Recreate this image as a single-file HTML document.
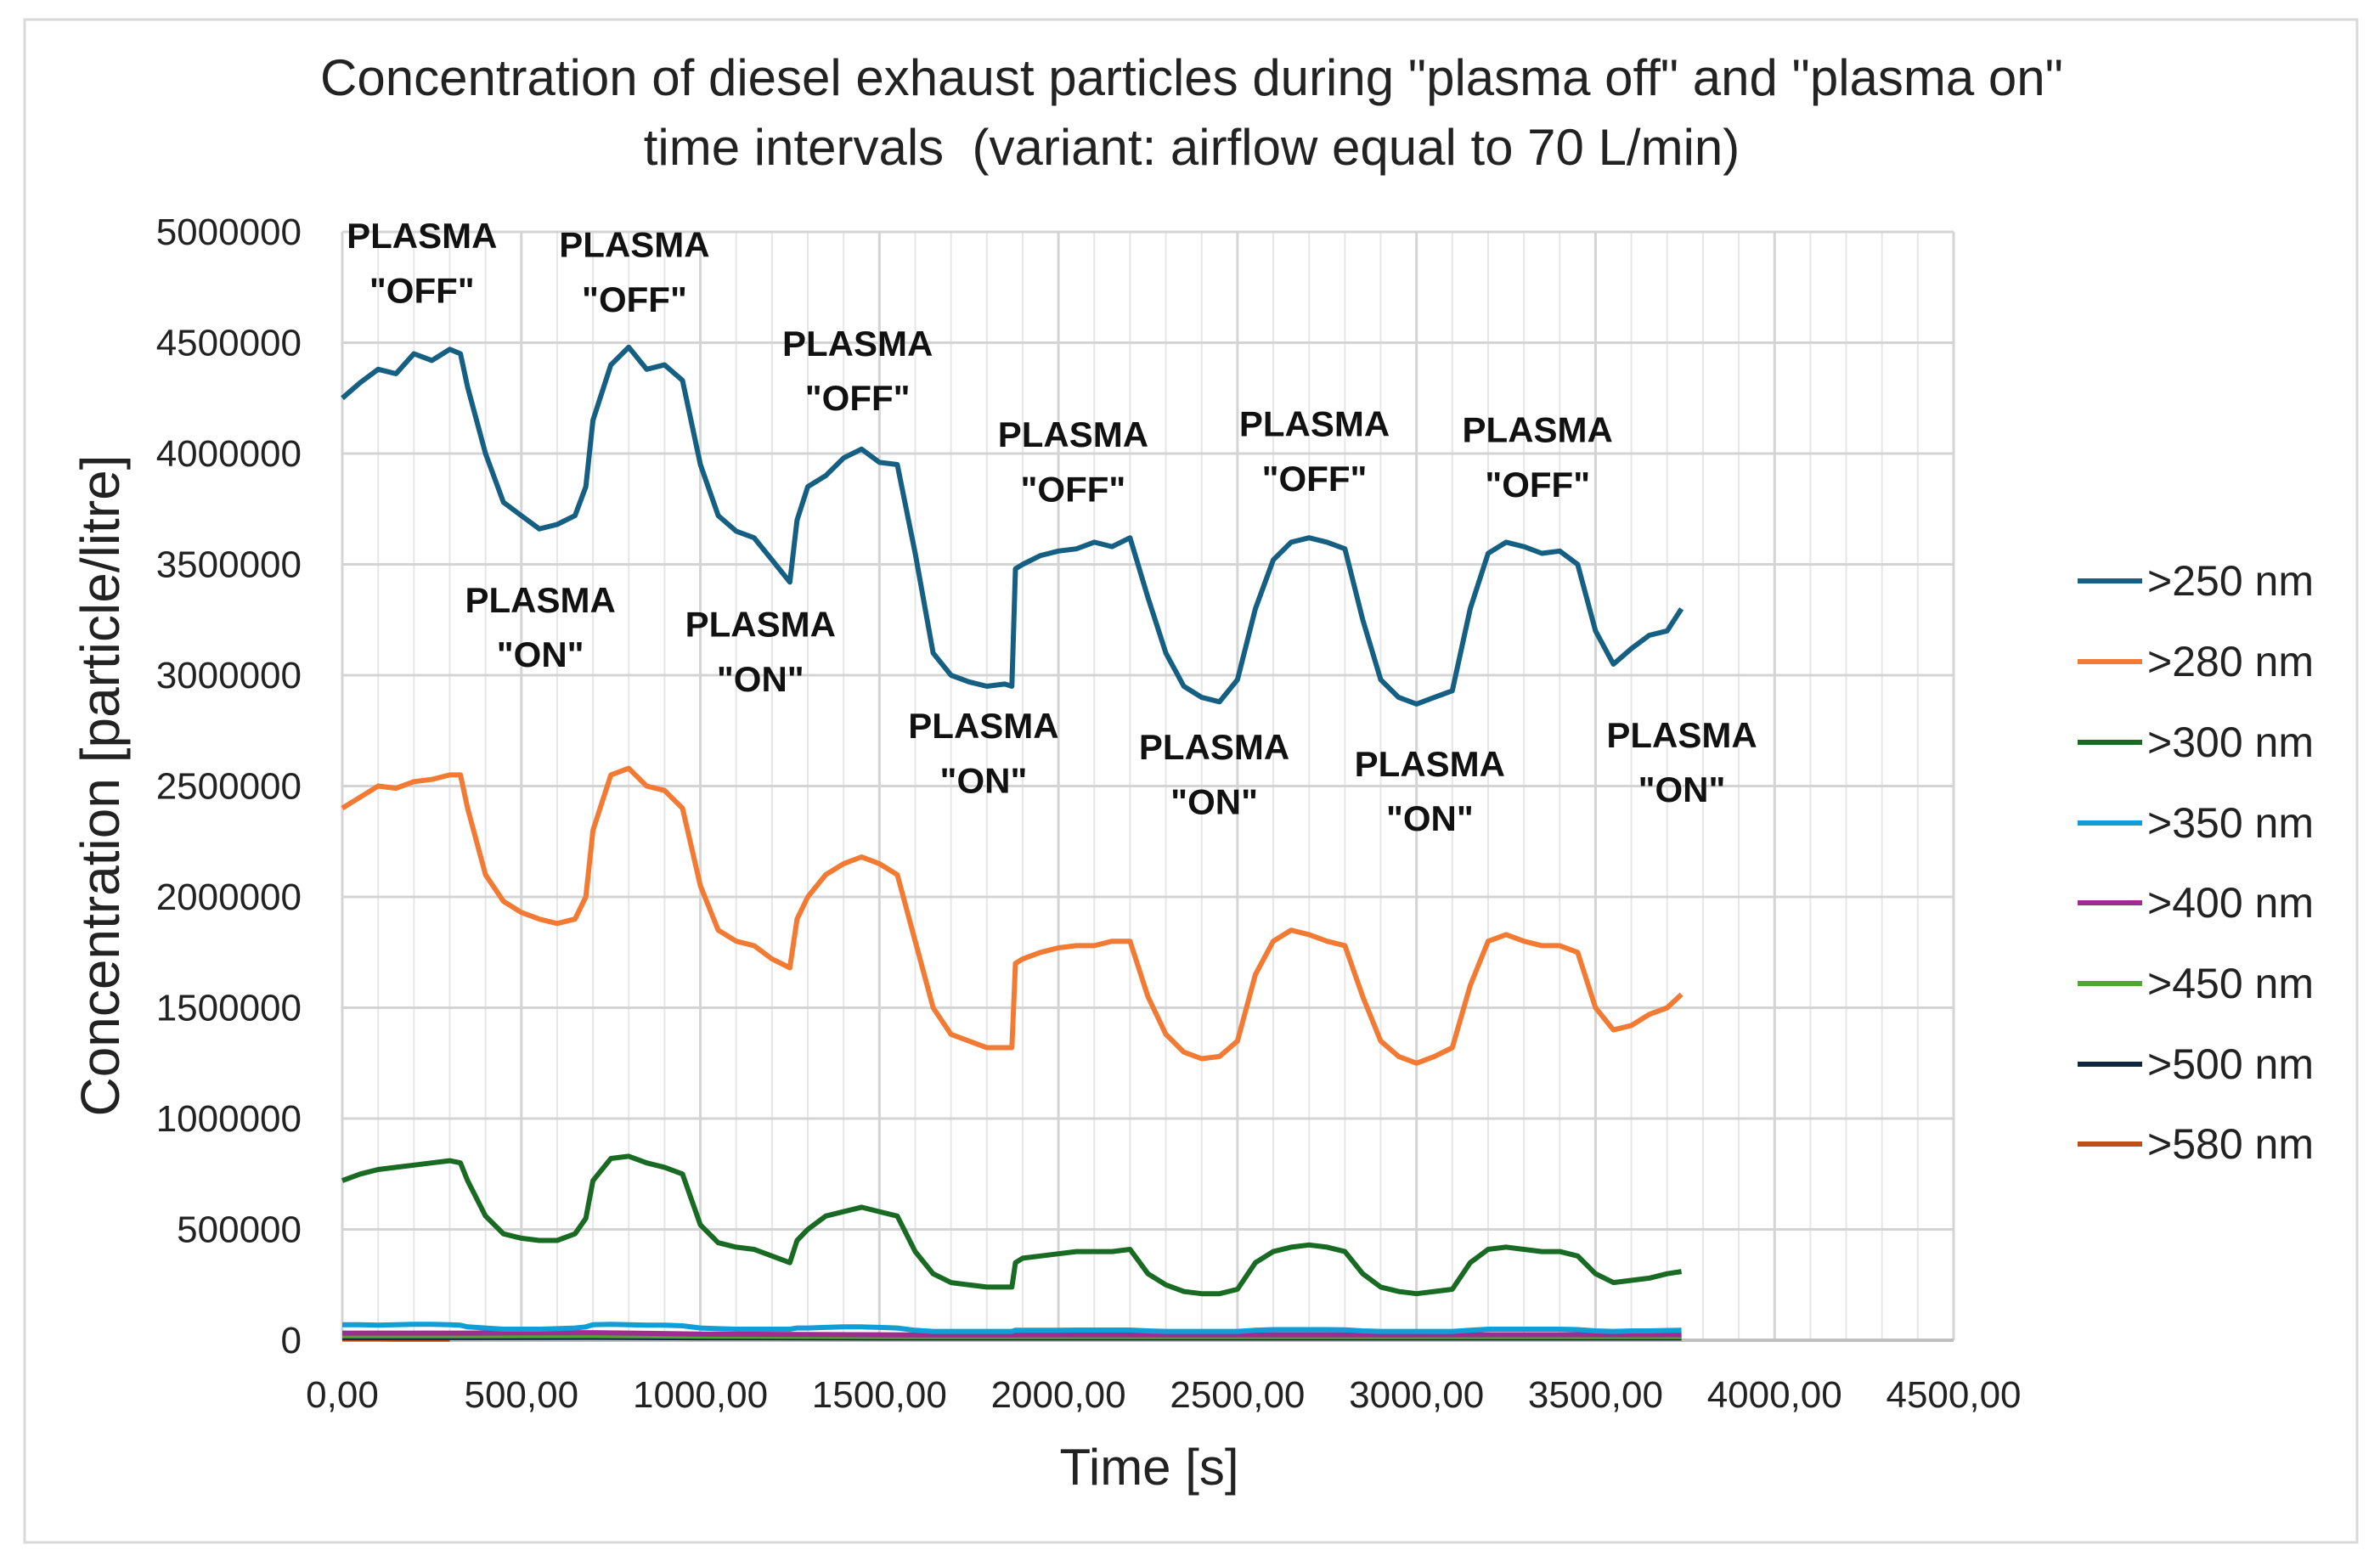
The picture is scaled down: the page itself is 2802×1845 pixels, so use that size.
<!DOCTYPE html>
<html><head><meta charset="utf-8">
<style>
html,body{margin:0;padding:0;background:#fff;}
svg{display:block;font-family:"Liberation Sans",sans-serif;}
</style></head>
<body>
<svg id="chart" width="2802" height="1845" viewBox="0 0 2802 1845" xmlns="http://www.w3.org/2000/svg">
<rect x="0" y="0" width="2802" height="1845" fill="#fff"/>
<rect x="29" y="23" width="2746" height="1793" fill="none" stroke="#d9d9d9" stroke-width="3"/>
<g id="grid"></g>
<g id="series"></g>
<g id="ticks"></g>
<text x="1403" y="112" font-size="60" text-anchor="middle" fill="#222">Concentration of diesel exhaust particles during "plasma off" and "plasma on"</text>
<text x="1403" y="194" font-size="60" text-anchor="middle" fill="#222" xml:space="preserve">time intervals  (variant: airflow equal to 70 L/min)</text>
<text transform="translate(140,925) rotate(-90)" font-size="64" text-anchor="middle" fill="#222">Concentration [particle/litre]</text>
<text x="1353" y="1748" font-size="60" text-anchor="middle" fill="#222">Time [s]</text>
<g id="notes"></g>
<g id="legend"></g>
</svg>
<script>
const times = [0,50,100,150,200,250,300,330,350,400,450,500,550,600,650,680,700,750,800,850,900,950,1000,1050,1100,1150,1200,1250,1270,1300,1350,1400,1450,1500,1550,1600,1650,1700,1750,1800,1850,1870,1880,1900,1950,2000,2050,2100,2150,2200,2250,2300,2350,2400,2450,2500,2550,2600,2650,2700,2750,2800,2850,2900,2950,3000,3050,3100,3150,3200,3250,3300,3350,3400,3450,3500,3550,3600,3650,3700,3740];
const s250 = [4.25,4.32,4.38,4.36,4.45,4.42,4.47,4.45, 4.3,4.0,3.78,3.72,3.66,3.68,3.72, 3.85, 4.15,4.4,4.48,4.38,4.4,4.33,3.95,3.72,3.65,3.62,3.52,3.42, 3.7, 3.85,3.9,3.98,4.02,3.96,3.95,3.55,3.1,3.0,2.97,2.95,2.96, 2.95,3.48, 3.5,3.54,3.56,3.57,3.6,3.58,3.62,3.35,3.1,2.95,2.9,2.88,2.98,3.3,3.52,3.6,3.62,3.6,3.57,3.25,2.98,2.9,2.87,2.9,2.93,3.3,3.55,3.6,3.58,3.55,3.56,3.5,3.2,3.05,3.12,3.18,3.2, 3.3];
const s280 = [2.4,2.45,2.5,2.49,2.52,2.53,2.55,2.55, 2.4,2.1,1.98,1.93,1.9,1.88,1.9, 2.0, 2.3,2.55,2.58,2.5,2.48,2.4,2.05,1.85,1.8,1.78,1.72,1.68, 1.9, 2.0,2.1,2.15,2.18,2.15,2.1,1.8,1.5,1.38,1.35,1.32,1.32, 1.32,1.7, 1.72,1.75,1.77,1.78,1.78,1.8,1.8,1.55,1.38,1.3,1.27,1.28,1.35,1.65,1.8,1.85,1.83,1.8,1.78,1.55,1.35,1.28,1.25,1.28,1.32,1.6,1.8,1.83,1.8,1.78,1.78,1.75,1.5,1.4,1.42,1.47,1.5, 1.56];
const s300 = [.72,.75,.77,.78,.79,.8,.81,.8, .72,.56,.48,.46,.45,.45,.48, .55, .72,.82,.83,.8,.78,.75,.52,.44,.42,.41,.38,.35, .45, .5,.56,.58,.6,.58,.56,.4,.3,.26,.25,.24,.24, .24,.35, .37,.38,.39,.4,.4,.4,.41,.3,.25,.22,.21,.21,.23,.35,.4,.42,.43,.42,.4,.3,.24,.22,.21,.22,.23,.35,.41,.42,.41,.4,.4,.38,.3,.26,.27,.28,.3, .31];
const s350 = [.07,.07,.068,.07,.072,.072,.07,.068, .06,.055,.05,.05,.05,.052,.055, .06, .07,.072,.07,.068,.068,.065,.055,.052,.05,.05,.05,.05, .055, .055,.058,.06,.06,.058,.055,.045,.04,.04,.04,.04,.04, .04,.045, .045,.045,.045,.046,.046,.046,.046,.042,.04,.04,.04,.04,.04,.045,.048,.048,.048,.048,.047,.042,.04,.04,.04,.04,.04,.045,.05,.05,.05,.05,.05,.048,.042,.04,.042,.042,.044, .045];
const tSmall = [0,330,700,1000,1600,1880,3740];
const s400 = [.032,.032,.034,.028,.024,.024,.025];
const s450 = [.02,.02,.021,.018,.016,.016,.016];
const s500 = [.012,.012,.013,.011,.01,.01,.01];
const s580 = [.006,.006,.006,.005,.005,.005,.005];
const seriesNames = [">250 nm",">280 nm",">300 nm",">350 nm",">400 nm",">450 nm",">500 nm",">580 nm"];
const seriesColors = ["#156082","#F27A33","#196B24","#0F9ED5","#A02B93","#4EA72E","#0E2841","#C04F15"];
const yTickLabels = ["0","500000","1000000","1500000","2000000","2500000","3000000","3500000","4000000","4500000","5000000"];
const xTickLabels = ["0,00","500,00","1000,00","1500,00","2000,00","2500,00","3000,00","3500,00","4000,00","4500,00"];
const offNotes = [[278,155],[418,161],[565,226],[707,286],[866,279],[1013,283]];
const onNotes = [[356,395],[501,411],[648,478],[800,492],[942,503],[1108,484]];

const NS="http://www.w3.org/2000/svg";
const X0=403, X1=2300, Y0=1578, Y1=273;
const xs = t => X0 + (t/4500)*(X1-X0);
const ys = v => Y0 - (v/5)*(Y0-Y1);
function mk(tag, attrs, parent){const e=document.createElementNS(NS,tag);for(const k in attrs)e.setAttribute(k,attrs[k]);parent.appendChild(e);return e;}

const grid=document.getElementById('grid');
for(let t=0;t<=4500;t+=100){
  const major = t%500===0;
  const l=mk('line',{x1:xs(t),x2:xs(t),y1:Y1,y2:Y0,stroke:major?'#d4d4d4':'#e6e6e6','stroke-width':major?3:2},grid);
  
  
}
yTickLabels.forEach((lab,i)=>{
  const v=i*0.5;
  const l=mk('line',{x1:X0,x2:X1,y1:ys(v),y2:ys(v),stroke:i===0?'#bfbfbf':'#d4d4d4','stroke-width':i===0?4:3},grid);
  
  
});
const ticks=document.getElementById('ticks');
yTickLabels.forEach((lab,i)=>{
  const t=mk('text',{x:355,y:ys(i*0.5)+15,'font-size':44,'text-anchor':'end',fill:'#222'},ticks);
  t.textContent=lab;
  
  
});
xTickLabels.forEach((lab,i)=>{
  const t=mk('text',{x:xs(i*500),y:1657,'font-size':44,'text-anchor':'middle',fill:'#222'},ticks);
  t.textContent=lab;
  
  
});

const sg=document.getElementById('series');
const allSeries=[[times,s580],[tSmall,s500],[tSmall,s450],[tSmall,s400],[times,s350],[times,s300],[times,s280],[times,s250]];
const idx=[7,6,5,4,3,2,1,0];
allSeries.forEach((pair,k)=>{
  const [tt,vv]=pair;
  const d=vv.map((v,i)=>(i?'L':'M')+xs(tt[i]).toFixed(1)+' '+ys(v).toFixed(1)).join(' ');
  const p=mk('path',{d:d,fill:'none',stroke:seriesColors[idx[k]],'stroke-width':6,'stroke-linejoin':'round'},sg);
  
  
});

const notes=document.getElementById('notes');
const S=1.787;
function note(pt,word){
  const t1=mk('text',{x:pt[0]*S,y:pt[1]*S+15,'font-size':42,'font-weight':'bold','text-anchor':'middle',fill:'#111'},notes);
  t1.textContent='PLASMA';
  
  
  const t2=mk('text',{x:pt[0]*S,y:(pt[1]+36)*S+15,'font-size':42,'font-weight':'bold','text-anchor':'middle',fill:'#111'},notes);
  t2.textContent=word;
  
  
}
offNotes.forEach(p=>note(p,'"OFF"'));
onNotes.forEach(p=>note(p,'"ON"'));

const lg=document.getElementById('legend');
const legY=[684,779,874,969,1063,1158,1253,1347];
seriesNames.forEach((n,i)=>{
  const g=mk('g',{},lg);
  
  
  mk('line',{x1:2446,x2:2522,y1:legY[i],y2:legY[i],stroke:seriesColors[i],'stroke-width':6},g);
  const t=mk('text',{x:2528,y:legY[i]+17,'font-size':50,fill:'#222'},g);
  t.textContent=n;
});
</script>
</body></html>
